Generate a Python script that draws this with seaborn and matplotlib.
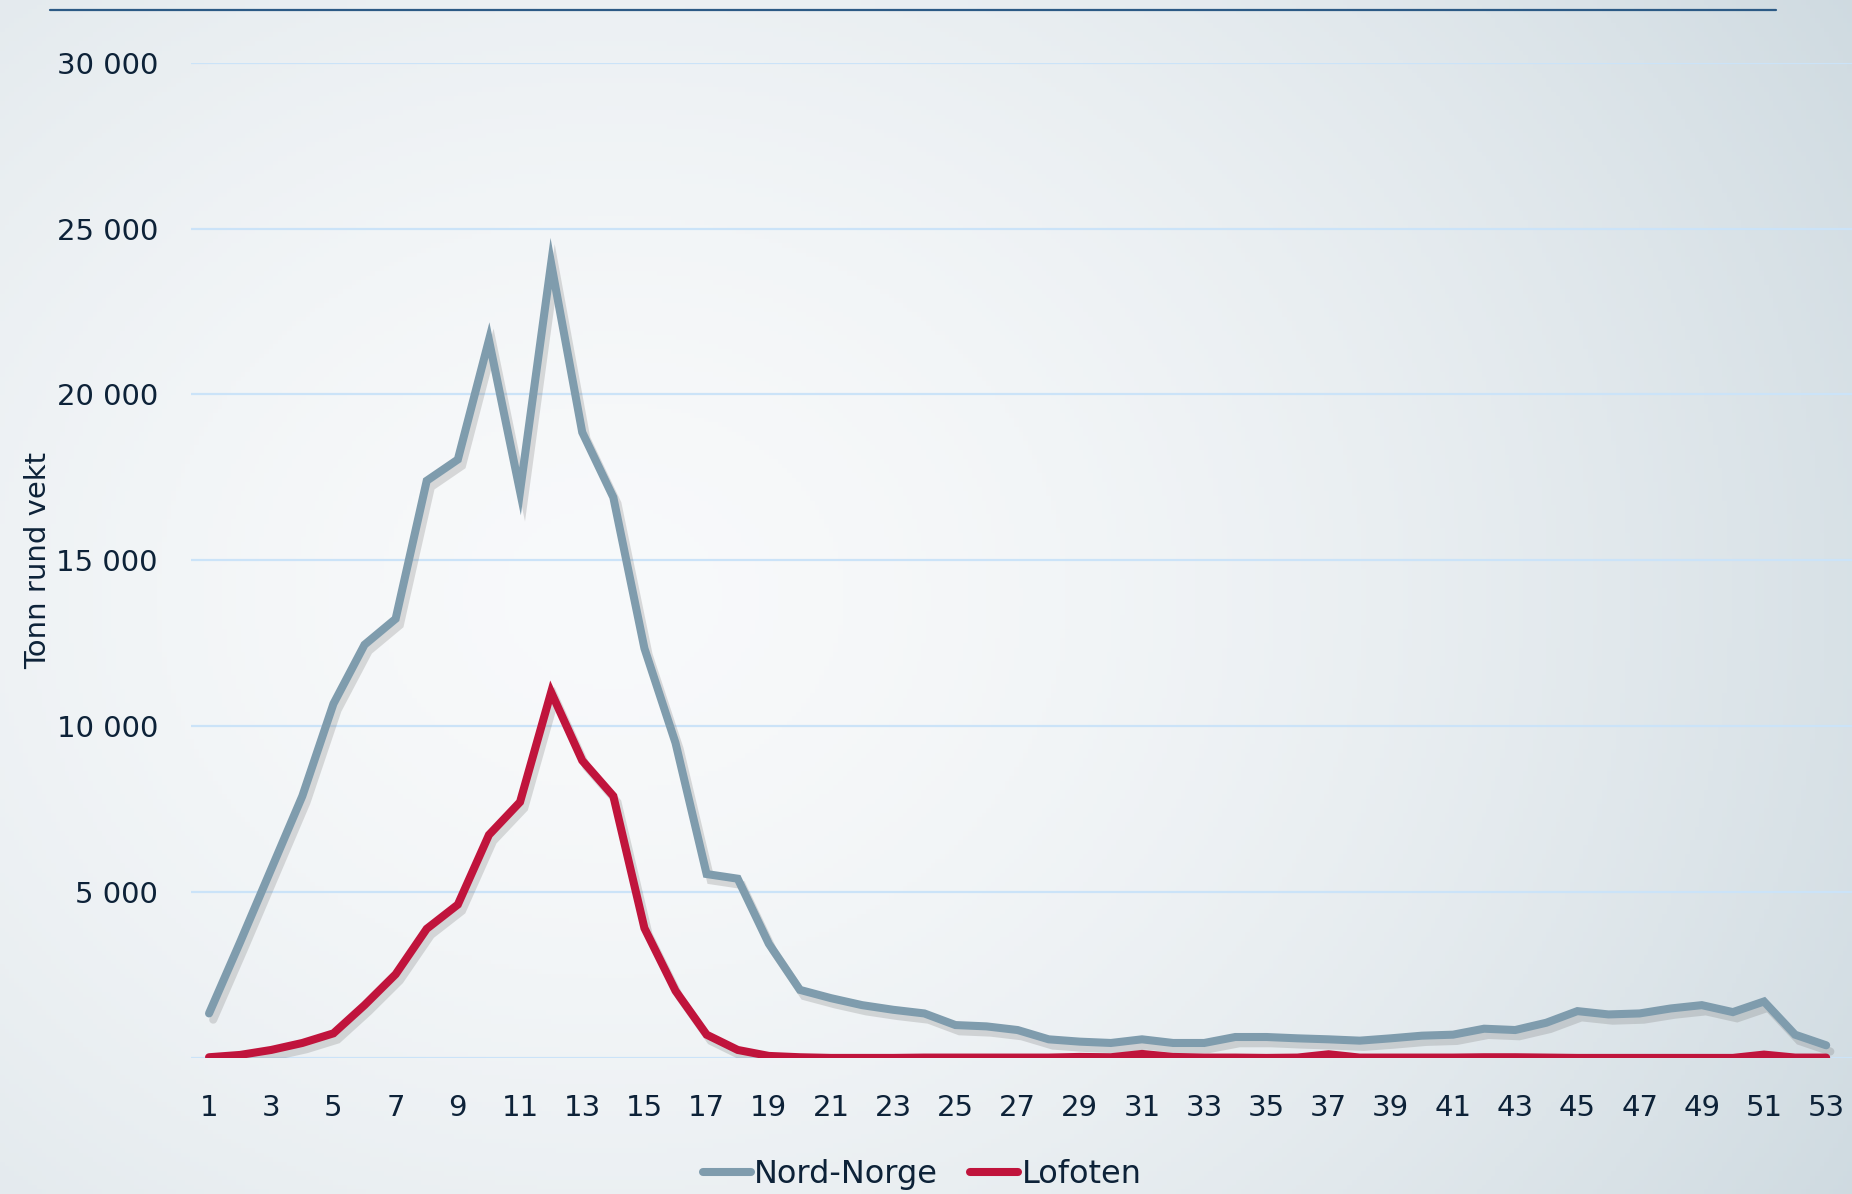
import numpy as np
import pandas as pd
import matplotlib
matplotlib.use("Agg")
import matplotlib.pyplot as plt
import matplotlib.patheffects as pe
from matplotlib.lines import Line2D
import seaborn as sns

# Uker 1-53
uker = list(range(1, 54))

nord_norge = [1350, 3500, 5700, 7900, 10680, 12460, 13240, 17400, 18040, 21640,
              17080, 23950, 18860, 16900, 12350, 9500, 5550, 5410, 3450, 2060,
              1810, 1600, 1460, 1350, 1000, 960, 850, 570, 500, 460,
              570, 460, 460, 640, 640, 600, 570, 530, 600, 680,
              710, 890, 850, 1070, 1420, 1320, 1350, 1500, 1600, 1390,
              1710, 710, 390]

lofoten = [30, 100, 250, 460, 750, 1600, 2530, 3900, 4630, 6730,
           7720, 11030, 8970, 7900, 3920, 2030, 710, 250, 70, 30,
           10, 10, 10, 20, 20, 20, 20, 20, 40, 30,
           130, 40, 20, 20, 10, 20, 120, 20, 20, 20,
           20, 30, 30, 20, 10, 10, 10, 10, 10, 10,
           110, 20, 20]

serier = ["Nord-Norge", "Lofoten"]
farger = {"Nord-Norge": "#7f9cad", "Lofoten": "#c0143c"}
y_ticks = [5000, 10000, 15000, 20000, 25000, 30000]

df = pd.DataFrame({
    "uke": uker * 2,
    "tonn": nord_norge + lofoten,
    "serie": ["Nord-Norge"] * len(uker) + ["Lofoten"] * len(uker),
})

sns.set_style("white")
plt.rcParams["font.family"] = ["DejaVu Sans"]

fig = plt.figure(figsize=(18.52, 11.94), dpi=100)

# background gradient
bg = fig.add_axes([0, 0, 1, 1], zorder=-10)
gx, gy = np.meshgrid(np.linspace(0, 1, 400), np.linspace(0, 1, 260))
d = np.sqrt(((gx - 0.33) / 1.0) ** 2 + ((gy - 0.5) / 1.3) ** 2)
d = np.clip(d / 0.78, 0, 1) ** 1.7
c0 = np.array([0.972, 0.978, 0.983])
c1 = np.array([0.81, 0.855, 0.88])
img = c0[None, None, :] * (1 - d[..., None]) + c1[None, None, :] * d[..., None]
bg.imshow(img, aspect="auto", extent=[0, 1, 0, 1], origin="upper")
bg.axis("off")

# top line
fig.add_artist(Line2D([0.027, 0.959], [0.992, 0.992], color="#2c5a85",
                      linewidth=1.6, transform=fig.transFigure))

ax = fig.add_axes([0.1033, 0.1137, 0.8967, 0.8339])
ax.patch.set_alpha(0)

sns.lineplot(data=df, x="uke", y="tonn", hue="serie", hue_order=serier,
             palette=farger, linewidth=5.8, ax=ax, legend=False)

for ln in ax.lines:
    ln.set_solid_capstyle("round")
    ln.set_solid_joinstyle("miter")
    ln.set_path_effects([pe.SimpleLineShadow(offset=(3, -4.5), shadow_color="#666666", alpha=0.22),
                         pe.Normal()])

ax.set_xlim(0.43, 53.83)
ax.set_ylim(0, 30000)
ax.set_xticks(uker[::2])
ax.set_yticks([0] + y_ticks)
ax.set_yticklabels([""] + [f"{v:,}".replace(",", " ") for v in y_ticks])
ax.grid(axis="y", color="#cbe3f8", linewidth=1.6)
ax.grid(axis="x", visible=False)
for s in ax.spines.values():
    s.set_visible(False)
ax.tick_params(axis="both", length=0, colors="#0d2238", labelsize=21)
ax.tick_params(axis="y", pad=24)
ax.tick_params(axis="x", pad=26)
ax.set_xlabel("")
ax.set_ylabel("Tonn rund vekt", fontsize=21, color="#0d2238")
ax.yaxis.set_label_coords(-0.084, 0.5)

handles = [Line2D([], [], color=farger[s], linewidth=5.8, solid_capstyle="round") for s in serier]
fig.legend(handles, serier, loc="center", bbox_to_anchor=(0.498, 0.016), ncol=2,
           frameon=False, fontsize=23, handlelength=1.5, handletextpad=0.1,
           columnspacing=1.0, labelcolor="#0d2238")

fig.savefig("out.png", dpi=100)
